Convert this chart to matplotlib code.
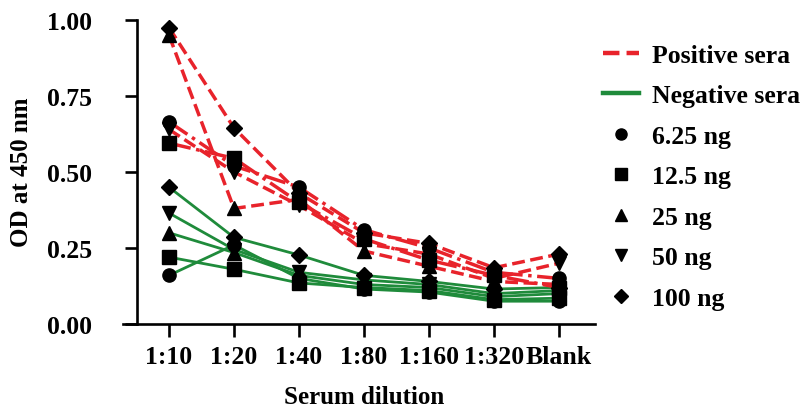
import matplotlib
matplotlib.use("Agg")
import matplotlib.pyplot as plt
from matplotlib.lines import Line2D

# dilution series on the x axis
dilutions = ['1:10', '1:20', '1:40', '1:80', '1:160', '1:320', 'Blank']
amounts = ['6.25 ng', '12.5 ng', '25 ng', '50 ng', '100 ng']
markers = ['o', 's', '^', 'v', 'D']

# positive sera, one list per antigen amount
pos_625 = [0.665, 0.52, 0.45, 0.31, 0.25, 0.17, 0.15]
pos_125 = [0.595, 0.545, 0.40, 0.28, 0.21, 0.16, 0.12]
pos_25 = [0.95, 0.38, 0.41, 0.24, 0.19, 0.14, 0.13]
pos_50 = [0.64, 0.50, 0.39, 0.265, 0.23, 0.15, 0.20]
pos_100 = [0.975, 0.645, 0.43, 0.30, 0.265, 0.185, 0.23]

# negative sera
neg_625 = [0.16, 0.26, 0.15, 0.115, 0.105, 0.075, 0.075]
neg_125 = [0.22, 0.18, 0.135, 0.12, 0.11, 0.08, 0.085]
neg_25 = [0.30, 0.235, 0.16, 0.13, 0.12, 0.09, 0.10]
neg_50 = [0.365, 0.245, 0.17, 0.145, 0.13, 0.10, 0.11]
neg_100 = [0.45, 0.285, 0.227, 0.16, 0.14, 0.115, 0.12]

pos = [pos_625, pos_125, pos_25, pos_50, pos_100]
neg = [neg_625, neg_125, neg_25, neg_50, neg_100]
pos_styles = ['-.', '-.', '--', '--', '--']

RED = '#e8232b'
GREEN = '#1f8b3b'

plt.rcParams['font.family'] = ['Liberation Serif', 'DejaVu Serif']
plt.rcParams['font.weight'] = 'bold'

W, H = 809, 410
fig = plt.figure(figsize=(W / 100, H / 100), dpi=100)
ax = fig.add_axes([123 / W, 85 / H, (595 - 123) / W, (325 - 21) / H])

x = list(range(len(dilutions)))

for vals in neg:
    ax.plot(x, vals, color=GREEN, ls='-', lw=2.0, zorder=2)
for vals, ls in zip(pos, pos_styles):
    ax.plot(x, vals, color=RED, ls=ls, lw=2.5, zorder=3)
for vals_list in (neg, pos):
    for vals, m in zip(vals_list, markers):
        ms = 8.5 if m == 'D' else 9.5
        ax.plot(x, vals, ls='none', marker=m, ms=ms, color='black',
                zorder=4, clip_on=False)

ax.set_xlim(-(169 - 123) / 65, 6 + (595 - 559) / 65)
ax.set_ylim(0, 1.0)
ax.spines['top'].set_visible(False)
ax.spines['right'].set_visible(False)
ax.spines['left'].set_position(('data', (137 - 169) / 65))
for s in ('left', 'bottom'):
    ax.spines[s].set_linewidth(1.9)

ax.set_xticks(x)
ax.set_xticklabels(dilutions)
ax.set_yticks([0, 0.25, 0.5, 0.75, 1.0])
ax.set_yticklabels(['0.00', '0.25', '0.50', '0.75', '1.00'])
ax.tick_params(axis='y', direction='out', length=8.6, width=1.9, pad=24,
               labelsize=18.5)
ax.tick_params(axis='x', direction='out', length=9.4, width=1.9, pad=6,
               labelsize=18.5)

fig.text(22 / W, (H - 172) / H, 'OD at 450 nm', rotation=90, ha='center',
         va='center', fontsize=18, fontweight='bold')
fig.text(364 / W, 6 / H, 'Serum dilution', ha='center', va='baseline',
         fontsize=18, fontweight='bold')

handles = [Line2D([], [], color=RED, ls='--', lw=3.2),
           Line2D([], [], color=GREEN, ls='-', lw=3.2)]
labels = ['Positive sera', 'Negative sera']
for m, a in zip(markers, amounts):
    handles.append(Line2D([], [], ls='none', marker=m, color='black',
                          ms=7 if m == 'D' else 8))
    labels.append(a)
fig.legend(handles, labels, loc='upper left',
           bbox_to_anchor=(603 / W, (H - 45) / H), frameon=False,
           borderaxespad=0, borderpad=0, handlelength=1.4,
           handletextpad=0.5, labelspacing=0.68,
           prop={'size': 18.5, 'weight': 'bold'})

fig.savefig('out.png', dpi=100)
